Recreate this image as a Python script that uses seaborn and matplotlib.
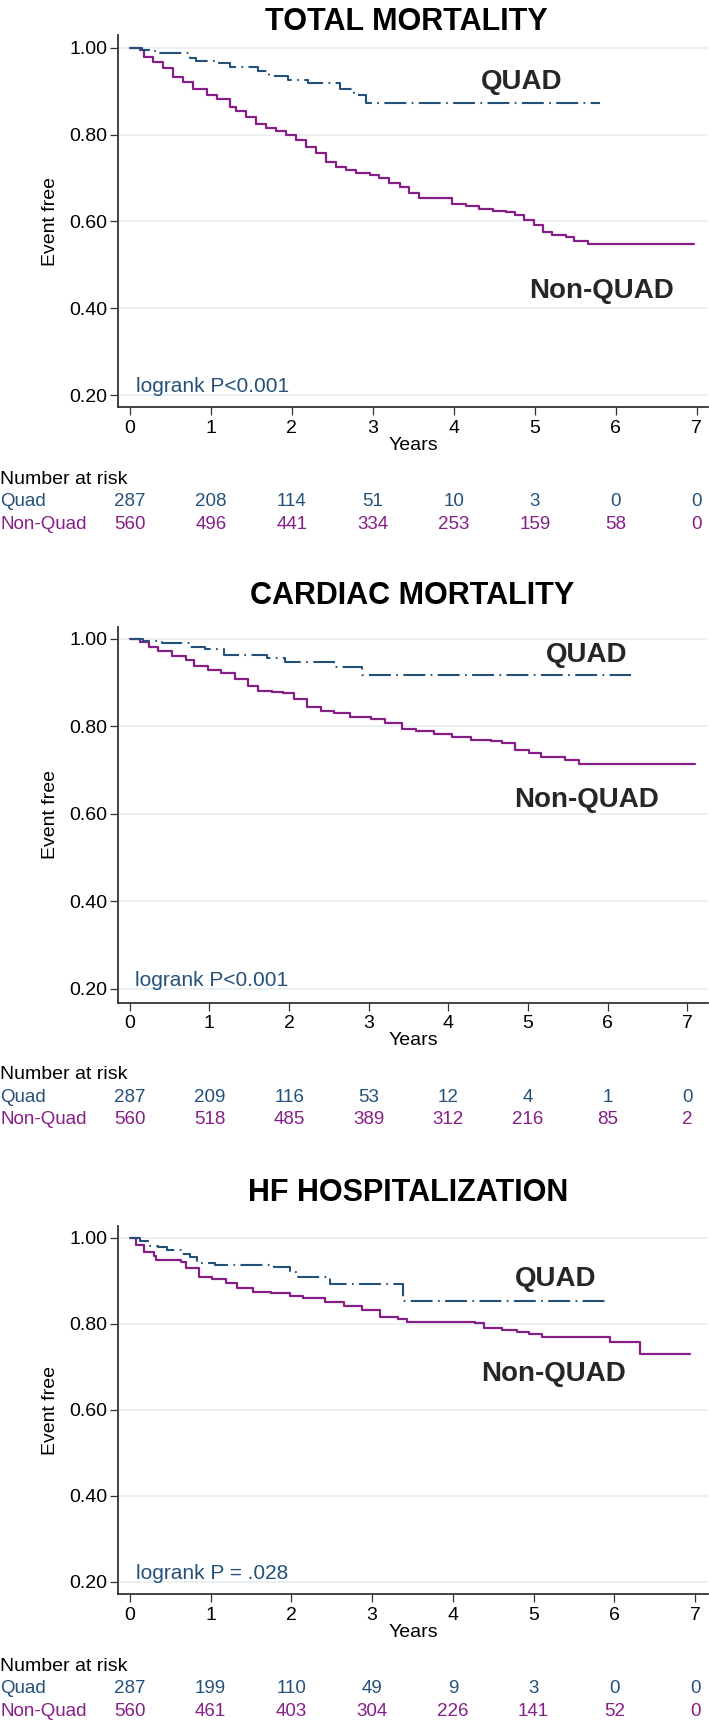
import matplotlib
matplotlib.use("Agg")
import matplotlib.pyplot as plt
import seaborn as sns
import pandas as pd

# ---- data ----
titles = ["TOTAL MORTALITY", "CARDIAC MORTALITY", "HF HOSPITALIZATION"]
pvals = ["logrank P<0.001", "logrank P<0.001", "logrank P = .028"]
years = [0, 1, 2, 3, 4, 5, 6, 7]

# total mortality
tm_quad_t = [0, 0.145, 0.31, 0.74, 0.82, 1.07, 1.24, 1.58, 1.72, 1.95, 2.20, 2.59, 2.77, 2.92, 5.80]
tm_quad_s = [1.0, 0.995, 0.987, 0.976, 0.969, 0.964, 0.956, 0.947, 0.935, 0.926, 0.918, 0.904, 0.891, 0.873, 0.873]
tm_non_t = [0, 0.12, 0.17, 0.29, 0.41, 0.53, 0.66, 0.78, 0.95, 1.07, 1.24, 1.31, 1.43, 1.56, 1.68,
            1.80, 1.93, 2.05, 2.17, 2.30, 2.42, 2.54, 2.67, 2.79, 2.96, 3.08, 3.20, 3.33, 3.45, 3.57,
            3.98, 4.15, 4.31, 4.48, 4.65, 4.76, 4.87, 4.99, 5.10, 5.21, 5.38, 5.49, 5.66, 6.97]
tm_non_s = [1.0, 0.995, 0.979, 0.968, 0.953, 0.933, 0.922, 0.904, 0.891, 0.883, 0.864, 0.855, 0.841, 0.824, 0.814,
            0.809, 0.799, 0.787, 0.772, 0.757, 0.737, 0.726, 0.718, 0.711, 0.707, 0.699, 0.689, 0.680, 0.666, 0.653,
            0.640, 0.635, 0.628, 0.624, 0.621, 0.615, 0.603, 0.591, 0.576, 0.568, 0.563, 0.555, 0.547, 0.547]
tm_risk_quad = [287, 208, 114, 51, 10, 3, 0, 0]
tm_risk_non = [560, 496, 441, 334, 253, 159, 58, 0]

# cardiac mortality
cm_quad_t = [0, 0.16, 0.41, 0.76, 0.95, 1.18, 1.72, 1.95, 2.57, 2.91, 6.29]
cm_quad_s = [1.0, 0.995, 0.990, 0.981, 0.976, 0.963, 0.956, 0.948, 0.935, 0.918, 0.918]
cm_non_t = [0, 0.13, 0.24, 0.36, 0.53, 0.70, 0.81, 0.98, 1.15, 1.32, 1.49, 1.61, 1.78, 1.92, 2.06, 2.23, 2.40,
            2.57, 2.77, 3.03, 3.20, 3.42, 3.59, 3.82, 4.05, 4.28, 4.53, 4.67, 4.84, 5.01, 5.16, 5.47, 5.64, 7.10]
cm_non_s = [1.0, 0.992, 0.981, 0.973, 0.961, 0.952, 0.937, 0.929, 0.921, 0.908, 0.892, 0.882, 0.879, 0.876, 0.862,
            0.845, 0.836, 0.831, 0.821, 0.816, 0.807, 0.795, 0.790, 0.782, 0.776, 0.770, 0.767, 0.763, 0.747,
            0.740, 0.729, 0.723, 0.715, 0.715]
cm_risk_quad = [287, 209, 116, 53, 12, 4, 1, 0]
cm_risk_non = [560, 518, 485, 389, 312, 216, 85, 2]

# HF hospitalization
hf_quad_t = [0, 0.13, 0.24, 0.35, 0.46, 0.63, 0.74, 0.83, 1.05, 1.78, 1.98, 2.06, 2.48, 3.38, 5.88]
hf_quad_s = [1.0, 0.991, 0.981, 0.978, 0.971, 0.962, 0.956, 0.942, 0.937, 0.931, 0.921, 0.908, 0.892, 0.852, 0.852]
hf_non_t = [0, 0.07, 0.18, 0.30, 0.32, 0.63, 0.69, 0.86, 1.02, 1.19, 1.33, 1.53, 1.75, 1.98, 2.14, 2.42, 2.65,
            2.87, 3.10, 3.32, 3.43, 4.27, 4.38, 4.61, 4.80, 4.94, 5.11, 5.95, 6.32, 6.94]
hf_non_s = [1.0, 0.983, 0.967, 0.957, 0.948, 0.944, 0.929, 0.909, 0.903, 0.895, 0.882, 0.874, 0.871, 0.864, 0.859,
            0.851, 0.841, 0.832, 0.816, 0.810, 0.805, 0.802, 0.789, 0.785, 0.781, 0.776, 0.770, 0.758, 0.729, 0.729]
hf_risk_quad = [287, 199, 110, 49, 9, 3, 0, 0]
hf_risk_non = [560, 461, 403, 304, 226, 141, 52, 0]

panels = [
    (tm_quad_t, tm_quad_s, tm_non_t, tm_non_s, tm_risk_quad, tm_risk_non),
    (cm_quad_t, cm_quad_s, cm_non_t, cm_non_s, cm_risk_quad, cm_risk_non),
    (hf_quad_t, hf_quad_s, hf_non_t, hf_non_s, hf_risk_quad, hf_risk_non),
]

# ---- layout (pixels of a 709x1721 canvas) ----
W, H = 709, 1721
axes_px = [(35, 407.3), (626.7, 1002.7), (1226, 1594.3)]      # top, bottom
xlims = [(-0.148, 7.14), (-0.148, 7.26), (-0.148, 7.16)]
ylims = [(0.1717, 1.0293), (0.168, 1.028), (0.171, 1.027)]
title_px = [(406.5, 30), (412, 604), (408.5, 1200.7)]          # centre x, baseline y
quad_lbl = [(4.84, 0.905), (5.73, 0.947), (5.27, 0.888)]
non_lbl = [(5.82, 0.423), (5.74, 0.616), (5.25, 0.666)]

BLUE = "#24517a"
PURPLE = "#861e88"
GRID = "#e5eef0"

sns.set_theme(style="white")
plt.rcParams["font.family"] = ["Liberation Sans", "DejaVu Sans"]

fig = plt.figure(figsize=(W / 100, H / 100), dpi=100)

for i, (qt, qs, nt, ns, rq, rn) in enumerate(panels):
    top, bot = axes_px[i]
    ax = fig.add_axes([118 / W, 1 - bot / H, 590 / W, (bot - top) / H])

    df_q = pd.DataFrame({"t": qt, "s": qs})
    df_n = pd.DataFrame({"t": nt, "s": ns})
    sns.lineplot(data=df_n, x="t", y="s", ax=ax, color=PURPLE, lw=1.6,
                 drawstyle="steps-post", estimator=None, sort=False, zorder=3)
    sns.lineplot(data=df_q, x="t", y="s", ax=ax, color=BLUE, lw=1.5,
                 drawstyle="steps-post", estimator=None, sort=False, zorder=4,
                 linestyle=(0, (10.5, 2.6, 0.8, 2.6)))

    ax.set_xlim(*xlims[i])
    ax.set_ylim(*ylims[i])
    ax.set_xticks(years)
    ax.set_yticks([0.2, 0.4, 0.6, 0.8, 1.0])
    ax.set_yticklabels(["0.20", "0.40", "0.60", "0.80", "1.00"])
    ax.grid(axis="y", color=GRID, lw=1.1)
    ax.grid(axis="x", visible=False)
    ax.set_axisbelow(True)
    for side in ["top", "right"]:
        ax.spines[side].set_visible(False)
    for side in ["left", "bottom"]:
        ax.spines[side].set_color("#333333")
        ax.spines[side].set_linewidth(1.3)
    ax.tick_params(axis="both", which="major", length=5.5, width=0.9, color="#333333",
                   labelsize=14, labelcolor="black", bottom=True, left=True)
    ax.tick_params(axis="x", pad=3.5)
    ax.tick_params(axis="y", pad=2)
    ax.set_xlabel("Years", fontsize=14, labelpad=0, color="black")
    ax.set_ylabel("Event free", fontsize=14, color="black")
    ax.yaxis.set_label_coords(-0.10, 0.5)

    fig.text(title_px[i][0] / W, 1 - title_px[i][1] / H, titles[i], ha="center", va="baseline",
             fontsize=22, fontweight="bold", color="black")
    ax.text(*quad_lbl[i], "QUAD", ha="center", va="baseline", fontsize=20, fontweight="bold")
    ax.text(*non_lbl[i], "Non-QUAD", ha="center", va="baseline", fontsize=20, fontweight="bold")
    ax.text(0.07, 0.206, pvals[i], ha="left", va="baseline", fontsize=15, color=BLUE)

    # number at risk table
    rows = [("Number at risk", "black", None, 55.2), ("Quad", BLUE, rq, 71.4), ("Non-Quad", PURPLE, rn, 87.6)]
    for lbl, col, vals, off in rows:
        ax.annotate(lbl, xy=(0.5, 0), xycoords=("figure pixels", "axes fraction"),
                    xytext=(0, -off), textcoords="offset points",
                    ha="left", va="baseline", fontsize=14 if vals is None else 13.5, color=col,
                    annotation_clip=False)
        if vals is None:
            continue
        for x, v in zip(years, vals):
            ax.annotate(str(v), xy=(x, 0), xycoords=("data", "axes fraction"),
                        xytext=(0, -off), textcoords="offset points",
                        ha="center", va="baseline", fontsize=13.5, color=col,
                        annotation_clip=False)

fig.savefig("out.png", dpi=100)
